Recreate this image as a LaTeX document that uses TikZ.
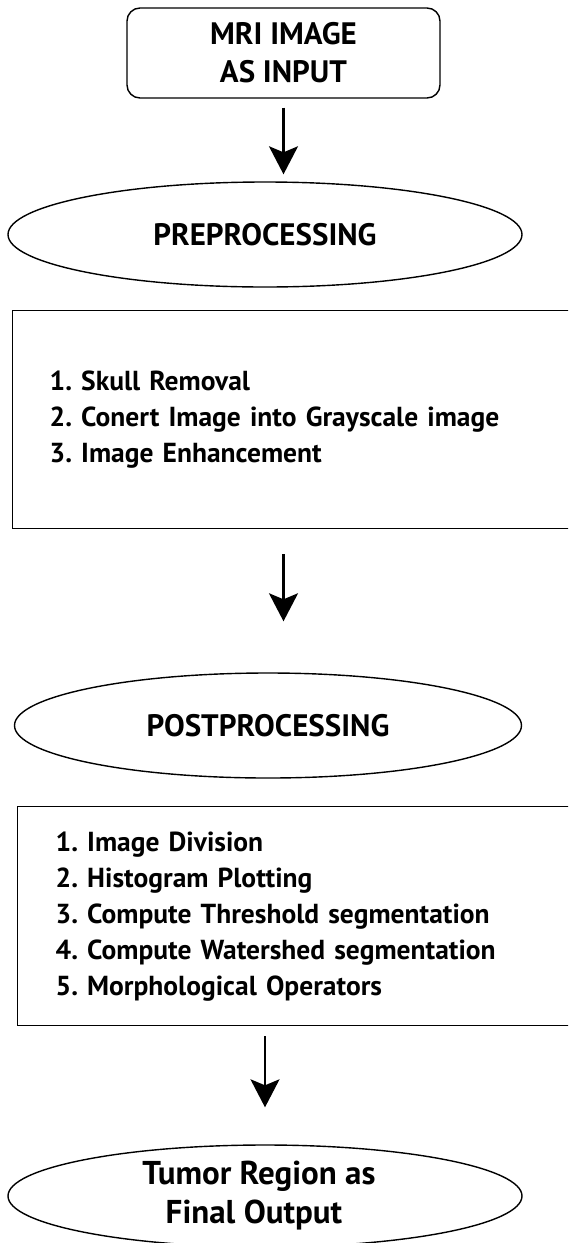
\documentclass[tikz,border=0pt]{standalone}
\usepackage{fontspec}
\setmainfont{PT Sans}
\usetikzlibrary{shapes.geometric,arrows.meta}
\tikzset{
  x=1pt,y=1pt,
  head/.style={font=\fontsize{31}{38}\selectfont\bfseries\frenchspacing},
  listtxt/.style={font=\fontsize{27.5}{36}\selectfont\bfseries\frenchspacing},
  startbox/.style={draw,line width=1.4pt,rounded corners=13pt,minimum width=313pt,minimum height=90pt,inner sep=0pt,align=center,head},
  oval/.style={draw,ellipse,line width=1.4pt,inner sep=0pt,align=center,head},
  listbox/.style={draw,line width=1.4pt,anchor=north west,inner xsep=37pt,inner ysep=0pt,text width=500pt,align=left,listtxt},
  arr/.style={line width=2.2pt,-{Stealth[length=28pt 0,width=29pt 0,inset=6pt 0,fill=black]}}
}
\begin{document}
\begin{tikzpicture}
\useasboundingbox (0,0) rectangle (568,-1243);
\clip (0,0) rectangle (568,-1243);
\fill[white] (0,0) rectangle (568,-1243);
\node[startbox] (mri) at (283.5,-53) {MRI IMAGE\\AS INPUT};
\node[oval,minimum width=514pt,minimum height=105pt] (pre) at (265,-234.5) {PREPROCESSING};
\node[listbox,minimum height=218pt] (box1) at (12,-310) {1. Skull Removal\\2. Conert Image into Grayscale image\\3. Image Enhancement};
\node[oval,minimum width=507pt,minimum height=105pt] (post) at (268,-725.5) {POSTPROCESSING};
\node[listbox,inner xsep=38pt,minimum height=219pt] (box2) at (17,-806) {1. Image Division\\2. Histogram Plotting\\3. Compute Threshold segmentation\\4. Compute Watershed segmentation\\5. Morphological Operators};
\node[oval,minimum width=514pt,minimum height=102pt,font=\fontsize{33}{39}\selectfont\bfseries] (final) at (265,-1196) {\hspace*{-12pt}Tumor Region as\\\hspace*{-22pt}Final Output};
\draw[arr] ([yshift=-9pt]mri.south) -- ([yshift=7pt]mri.south |- pre.north);
\draw[arr] ([yshift=-25pt]box1.south -| mri.south) -- ([yshift=51pt]mri.south |- post.north);
\draw[arr] ([yshift=-10pt]box2.south -| final.north) -- ([yshift=37pt]final.north);
\end{tikzpicture}
\end{document}
